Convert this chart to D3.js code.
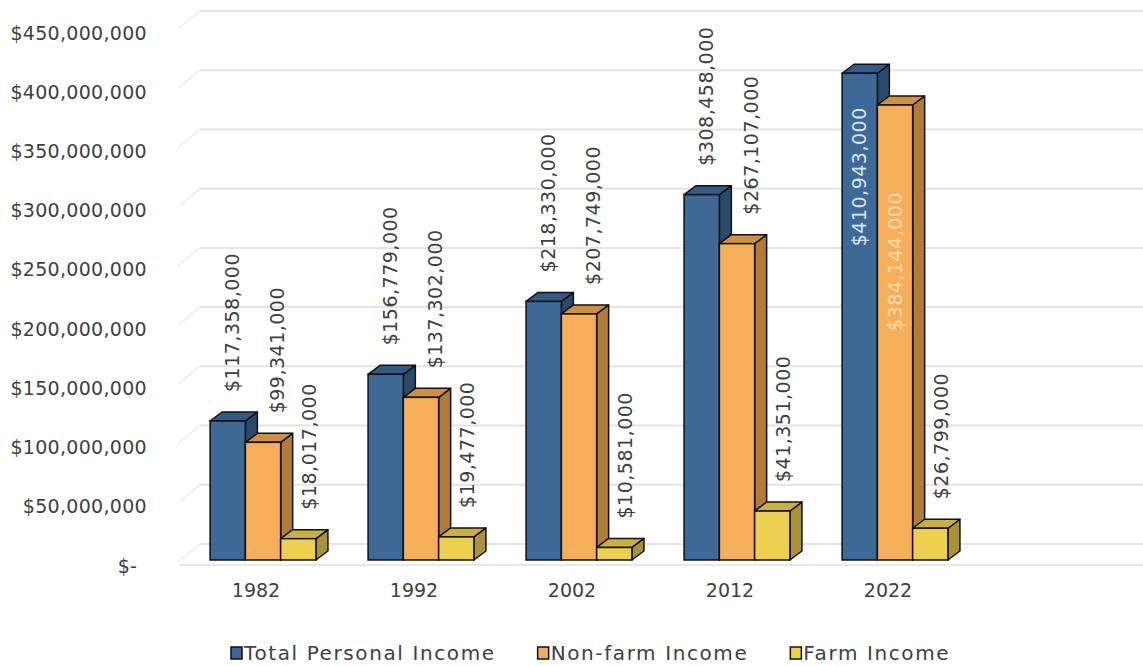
<!DOCTYPE html>
<html>
<head>
<meta charset="utf-8">
<script src="https://cdn.jsdelivr.net/npm/d3@7"></script>
<style>
  html,body{margin:0;padding:0;background:#fff;}
  svg{display:block;font-family:"DejaVu Sans",sans-serif;}
  .axis text{fill:#404040;font-size:19px;font-family:"DejaVu Sans",sans-serif;}
  .axis path,.axis line{display:none;}
</style>
</head>
<body>
<svg id="chart" width="1143" height="666"></svg>
<script>
/* ===== Data ===== */
const years = ['1982','1992','2002','2012','2022'];
const seriesNames = ['Total Personal Income','Non-farm Income','Farm Income'];
const totalIncome   = [117358000, 156779000, 218330000, 308458000, 410943000];
const nonFarmIncome = [ 99341000, 137302000, 207749000, 267107000, 384144000];
const farmIncome    = [ 18017000,  19477000,  10581000,  41351000,  26799000];
const yTicks = [0, 50e6, 100e6, 150e6, 200e6, 250e6, 300e6, 350e6, 400e6, 450e6];

/* ===== Style ===== */
const faces = [
  {front:'#3e6896', side:'#2b496b', top:'#345a84', inside:'#dbe8f6'},
  {front:'#f5af5a', side:'#b27b36', top:'#cd9044', inside:'#fbdcae'},
  {front:'#eed050', side:'#a8933a', top:'#c9b046', inside:'#fff3b0'}
];
const DX = 12, DY = -9;           // 3d depth offset
const labelShift = [5, 14, 11];   // label x nudge per series
const insideOffset = [34, 87];    // labels that don't fit above go inside

const fmtMoney = v => v===0 ? '$-\u2002' : '$' + d3.format(',')(v);

/* ===== Scales ===== */
const svg = d3.select('#chart');
const y = d3.scaleLinear().domain([0, 450e6]).range([560, 27]);
const x0 = d3.scaleBand().domain(years).range([184, 974]).paddingInner(0.33).paddingOuter(0.165);
const x1 = d3.scaleBand().domain(seriesNames).range([0, x0.bandwidth()]);

/* ===== Back wall grid ===== */
const grid = svg.append('g');
grid.selectAll('line.g').data(yTicks).enter().append('line')
  .attr('x1', 200).attr('x2', 1143)
  .attr('y1', d => y(d) - 16).attr('y2', d => y(d) - 16)
  .attr('stroke', '#e4e4e4').attr('stroke-width', 2);
grid.selectAll('line.s').data(yTicks).enter().append('line')
  .attr('x1', 178).attr('x2', 200)
  .attr('y1', d => y(d) + 2).attr('y2', d => y(d) - 16)
  .attr('stroke', '#f0f0f0').attr('stroke-width', 2);
svg.append('line').attr('x1', 180).attr('x2', 1143)
  .attr('y1', y(0) + 5).attr('y2', y(0) + 5)
  .attr('stroke', '#e8e8e8').attr('stroke-width', 2);

/* ===== Y axis ===== */
svg.append('g').attr('class','axis')
  .attr('transform','translate(147,6)')
  .call(d3.axisLeft(y).tickValues(yTicks).tickSize(0).tickPadding(0).tickFormat(fmtMoney))
  .attr('font-family', null)
  .selectAll('text').attr('letter-spacing', 0.3);

/* ===== X axis ===== */
svg.append('g').attr('class','axis')
  .attr('transform','translate(-7,580)')
  .call(d3.axisBottom(x0).tickSize(0).tickPadding(0))
  .attr('font-family', null)
  .selectAll('text').attr('dy','0.9em');

/* ===== Bars ===== */
const seriesVals = [totalIncome, nonFarmIncome, farmIncome];
const rows = [];
years.forEach((yr, i) => seriesVals.forEach((vals, s) => rows.push({yr, s, v: vals[i]})));

const bars = svg.append('g').selectAll('g.bar').data(rows).enter().append('g').attr('class','bar');
const w = x1.bandwidth();
const pts = a => a.map(p => p.join(',')).join(' ');
bars.each(function(d){
  const g = d3.select(this);
  const xl = x0(d.yr) + x1(seriesNames[d.s]), yt = y(d.v), yb = y(0), c = faces[d.s];
  g.append('polygon').attr('points', pts([[xl+w,yt],[xl+w+DX,yt+DY],[xl+w+DX,yb+DY],[xl+w,yb]]))
    .attr('fill', c.side).attr('stroke','#111').attr('stroke-width',1.5).attr('stroke-linejoin','round');
  g.append('polygon').attr('points', pts([[xl,yt],[xl+DX,yt+DY],[xl+w+DX,yt+DY],[xl+w,yt]]))
    .attr('fill', c.top).attr('stroke','#111').attr('stroke-width',1.5).attr('stroke-linejoin','round');
  g.append('rect').attr('x', xl).attr('y', yt).attr('width', w).attr('height', yb - yt)
    .attr('fill', c.front).attr('stroke','#111').attr('stroke-width',1.5);
});

/* ===== Data labels ===== */
const labels = svg.append('g');
rows.forEach(d => {
  const cx = x0(d.yr) + x1(seriesNames[d.s]) + w/2 + labelShift[d.s];
  const t = labels.append('text').text(fmtMoney(d.v))
    .attr('font-size', 19).attr('letter-spacing', 0.5).attr('dy', '0.35em');
  const len = t.node().getComputedTextLength();
  const above = y(d.v) - 29;
  if (above - len < 2 && d.s < 2) {
    const cxi = x0(d.yr) + x1(seriesNames[d.s]) + w/2;
    t.attr('text-anchor','end').attr('fill', faces[d.s].inside)
      .attr('transform', `translate(${cxi},${y(d.v) + insideOffset[d.s]}) rotate(-90)`);
  } else {
    t.attr('text-anchor','start').attr('fill','#404040')
      .attr('transform', `translate(${cx},${above}) rotate(-90)`);
  }
});

/* ===== Legend ===== */
const leg = svg.append('g').attr('transform','translate(231,653)');
let lx = 0;
seriesNames.forEach((n, i) => {
  const it = leg.append('g').attr('transform', `translate(${lx},0)`);
  it.append('rect').attr('x', 0).attr('y', -6).attr('width', 11).attr('height', 12)
    .attr('fill', faces[i].front).attr('stroke', '#111').attr('stroke-width', 1.5);
  const t = it.append('text').attr('x', 13).attr('dy','0.35em')
    .attr('font-size', 20).attr('letter-spacing', 1.6).attr('fill','#404040').text(n);
  lx += 13 + t.node().getComputedTextLength() + 42;
});
</script>
</body>
</html>
